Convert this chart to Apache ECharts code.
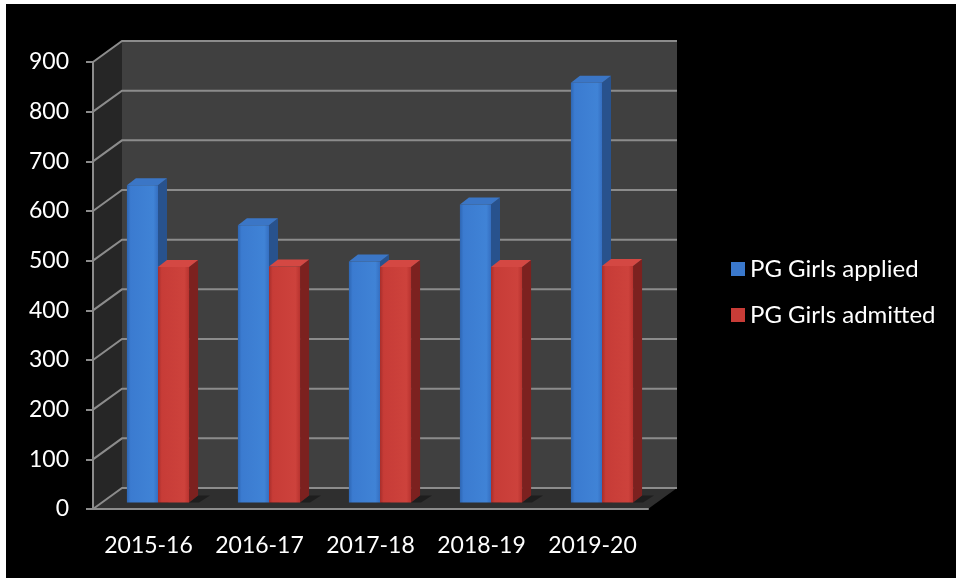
<!DOCTYPE html>
<html>
<head>
<meta charset="utf-8">
<script src="https://cdn.jsdelivr.net/npm/echarts@6/dist/echarts.min.js"></script>
<style>
  html, body { margin: 0; padding: 0; background: #000; }
  #chart { width: 956px; height: 578px; }
</style>
</head>
<body>
<div id="chart"></div>
<script>
// Postgraduate admissions, girls: applications vs admissions per academic year
const categories = ['2015-16', '2016-17', '2017-18', '2018-19', '2019-20'];
const applied = [639, 558, 485, 600, 845];
const admitted = [474, 475, 474, 474, 476];
const yTicks = [0, 100, 200, 300, 400, 500, 600, 700, 800, 900];
const seriesNames = ['PG Girls applied', 'PG Girls admitted'];

// Pseudo-3D geometry (pixel offsets applied to the coordinates the axes give)
const WALL = [29, -21];        // back wall depth relative to the front plane
const BAR_SHIFT = [9.5, -6.5]; // front face of the bars relative to the front plane
const BAR_DEPTH = [9, -7];     // depth of each bar
const BAR_FRAC = 0.28;         // bar width as a share of one category band
const GRID_COLOR = '#8c8c8c';
const FONT = 'Lato, "Open Sans", sans-serif';

const palettes = [
  { front: ['#2e66b3', '#3b7bd0', '#4083d6', '#356fc1'], side: '#28528d', top: '#3b76c6', legend: '#3a78cc' },
  { front: ['#a82e2b', '#c73c37', '#cd423c', '#b8332f'], side: '#7c211f', top: '#d44843', legend: '#c83c37' }
];

function plotFrame(api) {
  const band = api.size([1, 0])[0];
  const first = api.coord([0, yTicks[0]]);
  const last = api.coord([categories.length - 1, yTicks[0]]);
  const top = api.coord([0, yTicks[yTicks.length - 1]]);
  return { band, x0: first[0] - band / 2, x1: last[0] + band / 2, y0: first[1], yt: top[1] };
}

// Back wall, left side wall and floor
function renderWalls(params, api) {
  const f = plotFrame(api);
  const [dx, dy] = WALL;
  return {
    type: 'group',
    children: [
      { type: 'rect', shape: { x: f.x0 + dx, y: f.yt + dy, width: f.x1 - f.x0, height: f.y0 - f.yt },
        style: { fill: '#404040' } },
      { type: 'polygon', shape: { points: [[f.x0, f.y0], [f.x0, f.yt], [f.x0 + dx, f.yt + dy], [f.x0 + dx, f.y0 + dy]] },
        style: { fill: '#262626' } },
      { type: 'polygon', shape: { points: [[f.x0, f.y0], [f.x1, f.y0], [f.x1 + dx, f.y0 + dy], [f.x0 + dx, f.y0 + dy]] },
        style: { fill: '#2f2f2f' } }
    ]
  };
}

// One gridline per tick: diagonal on the side wall, horizontal on the back wall
function renderGridline(params, api) {
  const f = plotFrame(api);
  const y = api.coord([0, api.value(1)])[1];
  const [dx, dy] = WALL;
  return {
    type: 'polyline',
    shape: { points: [[f.x0, y], [f.x0 + dx, y + dy], [f.x1 + dx, y + dy]] },
    style: { stroke: GRID_COLOR, lineWidth: 2, fill: null }
  };
}

function makeBarRenderer(slot, pal) {
  return function (params, api) {
    const i = api.value(0);
    const v = api.value(1);
    const base = api.coord([i, 0]);
    const tip = api.coord([i, v]);
    const band = api.size([1, 0])[0];
    const w = band * BAR_FRAC;
    const pc = base[0] + BAR_SHIFT[0];
    const xl = slot === 0 ? pc - w : pc;
    const xr = xl + w;
    const yb = base[1] + BAR_SHIFT[1];
    const yt = tip[1] + BAR_SHIFT[1];
    const [dx, dy] = BAR_DEPTH;
    return {
      type: 'group',
      children: [
        { type: 'polygon', shape: { points: [[xr, yb], [xr + dx, yb + dy], [xr + dx + 12, yb + dy], [xr + 10, yb]] },
          style: { fill: 'rgba(0,0,0,0.35)' } },
        { type: 'polygon', shape: { points: [[xr, yt], [xr + dx, yt + dy], [xr + dx, yb + dy], [xr, yb]] },
          style: { fill: pal.side } },
        { type: 'polygon', shape: { points: [[xl, yt], [xr, yt], [xr + dx, yt + dy], [xl + dx, yt + dy]] },
          style: { fill: pal.top } },
        { type: 'rect', shape: { x: xl, y: yt, width: w, height: yb - yt },
          style: { fill: new echarts.graphic.LinearGradient(0, 0, 1, 0, [
            { offset: 0, color: pal.front[0] },
            { offset: 0.12, color: pal.front[1] },
            { offset: 0.85, color: pal.front[2] },
            { offset: 1, color: pal.front[3] }
          ]) } }
      ]
    };
  };
}

const chart = echarts.init(document.getElementById('chart'), null, { renderer: 'canvas' });

chart.setOption({
  backgroundColor: '#000',
  animation: false,
  grid: { left: 93, top: 62, width: 555, height: 447 },
  xAxis: {
    type: 'category',
    data: categories,
    z: 5,
    axisLine: { lineStyle: { color: GRID_COLOR, width: 2 } },
    axisTick: { length: 8, lineStyle: { color: GRID_COLOR, width: 2 } },
    axisLabel: { color: '#fff', fontSize: 23, fontFamily: FONT, margin: 25, interval: 0 },
    splitLine: { show: false }
  },
  yAxis: {
    type: 'value',
    min: yTicks[0],
    max: yTicks[yTicks.length - 1],
    interval: yTicks[1] - yTicks[0],
    z: 5,
    axisLine: { show: true, lineStyle: { color: GRID_COLOR, width: 2 } },
    axisTick: { show: true, length: 7, lineStyle: { color: GRID_COLOR, width: 2 } },
    axisLabel: { color: '#fff', fontSize: 23, fontFamily: FONT, margin: 24 },
    splitLine: { show: false }
  },
  legend: {
    orient: 'vertical',
    left: 726,
    top: 252,
    itemWidth: 14,
    itemHeight: 14,
    itemGap: 22,
    itemTextGap: 8,
    icon: 'rect',
    data: seriesNames,
    textStyle: { color: '#fff', fontSize: 24, fontFamily: FONT }
  },
  graphic: [
    { type: 'rect', left: 0, top: 0, shape: { width: 6, height: 578 }, style: { fill: '#fff' }, z: 100 },
    { type: 'rect', left: 0, top: 0, shape: { width: 956, height: 4 }, style: { fill: '#fff' }, z: 100 }
  ],
  series: [
    { type: 'custom', name: 'walls', z: 0, silent: true, renderItem: renderWalls, data: [[0, 0]] },
    { type: 'custom', name: 'gridlines', z: 1, silent: true, renderItem: renderGridline,
      data: yTicks.map(t => [0, t]) },
    { type: 'custom', name: seriesNames[0], z: 3, renderItem: makeBarRenderer(0, palettes[0]),
      itemStyle: { color: palettes[0].legend },
      data: applied.map((v, i) => [i, v]) },
    { type: 'custom', name: seriesNames[1], z: 4, renderItem: makeBarRenderer(1, palettes[1]),
      itemStyle: { color: palettes[1].legend },
      data: admitted.map((v, i) => [i, v]) }
  ]
});
</script>
</body>
</html>
